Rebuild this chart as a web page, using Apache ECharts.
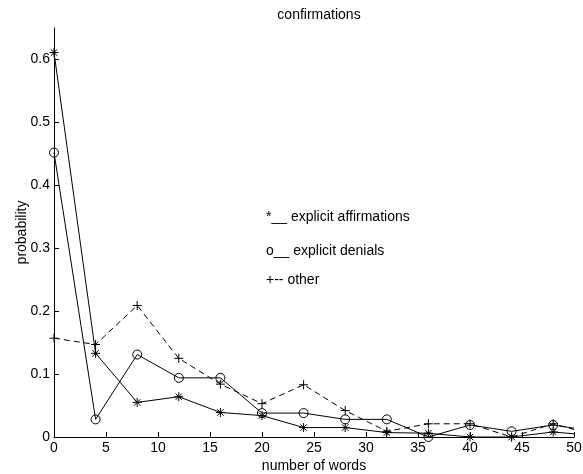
<!DOCTYPE html>
<html>
<head>
<meta charset="utf-8">
<script src="https://cdn.jsdelivr.net/npm/echarts@6/dist/echarts.min.js"></script>
<style>
  html, body { margin: 0; padding: 0; background: #fff; }
  #chart { width: 583px; height: 474px; }
</style>
</head>
<body>
<div id="chart"></div>
<script>
// number of words (last point at 50 is only the line end, no marker)
var words = [0, 4, 8, 12, 16, 20, 24, 28, 32, 36, 40, 44, 48, 50];
var affirmations = [0.611, 0.133, 0.055, 0.064, 0.039, 0.034, 0.015, 0.015, 0.007, 0.006, 0.000, 0.000, 0.008, 0.005];
var denials = [0.452, 0.028, 0.131, 0.094, 0.094, 0.038, 0.038, 0.028, 0.028, 0.000, 0.019, 0.009, 0.019, 0.014];
var other = [0.157, 0.147, 0.209, 0.125, 0.084, 0.053, 0.083, 0.042, 0.009, 0.021, 0.021, 0.000, 0.021, 0.012];
var xTicks = [0, 5, 10, 15, 20, 25, 30, 35, 40, 45, 50];
var yTicks = [0, 0.1, 0.2, 0.3, 0.4, 0.5, 0.6];

var FONT = 'Liberation Sans, Arial, sans-serif';
var STAR = 'path://M0,-5V5M-5,0H5M-3.6,-3.6L3.6,3.6M-3.6,3.6L3.6,-3.6';
var PLUS = 'path://M0,-5V5M-5,0H5';

// pair up x and y, the end point at x=50 gets no marker
function pairs(ys) {
    var out = [];
    for (var i = 0; i < words.length; i++) {
        var item = { value: [words[i], ys[i]] };
        if (i == words.length - 1) item.symbol = 'none';
        out.push(item);
    }
    return out;
}

function series(name, ys, symbol, size, dash) {
    return {
        name: name,
        type: 'line',
        data: pairs(ys),
        symbol: symbol,
        symbolSize: size,
        showAllSymbol: true,
        lineStyle: { color: '#000', width: 1, type: dash },
        itemStyle: { color: 'transparent', borderColor: '#000', borderWidth: 1 },
        emphasis: { disabled: true },
        z: 3
    };
}

var chart = echarts.init(document.getElementById('chart'));
chart.setOption({
    animation: false,
    backgroundColor: '#fff',
    title: {
        text: 'confirmations',
        left: 314,
        top: 3,
        textAlign: 'center',
        textStyle: { fontFamily: FONT, fontSize: 14, fontWeight: 'normal', color: '#000' }
    },
    grid: { left: 54, right: 9, top: 28, bottom: 37, containLabel: false, outerBoundsMode: 'none' },
    xAxis: {
        type: 'value',
        min: 0,
        max: 50,
        interval: 5,
        name: 'number of words',
        nameLocation: 'middle',
        nameGap: 22,
        nameMoveOverlap: false,
        nameTextStyle: { fontFamily: FONT, fontSize: 14, color: '#000' },
        axisLine: { lineStyle: { color: '#000', width: 1 } },
        axisTick: { inside: true, length: 5, lineStyle: { color: '#000' }, customValues: xTicks },
        axisLabel: { fontFamily: FONT, fontSize: 14, color: '#000', margin: 4, customValues: xTicks },
        splitLine: { show: false }
    },
    yAxis: {
        type: 'value',
        min: 0,
        max: 0.65,
        name: 'probability',
        nameLocation: 'middle',
        nameGap: 25,
        nameRotate: 90,
        nameMoveOverlap: false,
        nameTextStyle: { fontFamily: FONT, fontSize: 14, color: '#000' },
        axisLine: { show: true, lineStyle: { color: '#000', width: 1 } },
        axisTick: { show: true, inside: true, length: 5, lineStyle: { color: '#000' }, customValues: yTicks },
        axisLabel: { fontFamily: FONT, fontSize: 14, color: '#000', margin: 4, customValues: yTicks },
        splitLine: { show: false }
    },
    graphic: [
        { type: 'text', left: 266, top: 210, style: { text: '*__ explicit affirmations', font: '14px ' + FONT, fill: '#000' } },
        { type: 'text', left: 266, top: 244, style: { text: 'o__ explicit denials', font: '14px ' + FONT, fill: '#000' } },
        { type: 'text', left: 266, top: 273, style: { text: '+-- other', font: '14px ' + FONT, fill: '#000' } }
    ],
    series: [
        series('explicit affirmations', affirmations, STAR, 9, 'solid'),
        series('explicit denials', denials, 'circle', 9, 'solid'),
        series('other', other, PLUS, 9, [6, 4])
    ]
});
</script>
</body>
</html>
